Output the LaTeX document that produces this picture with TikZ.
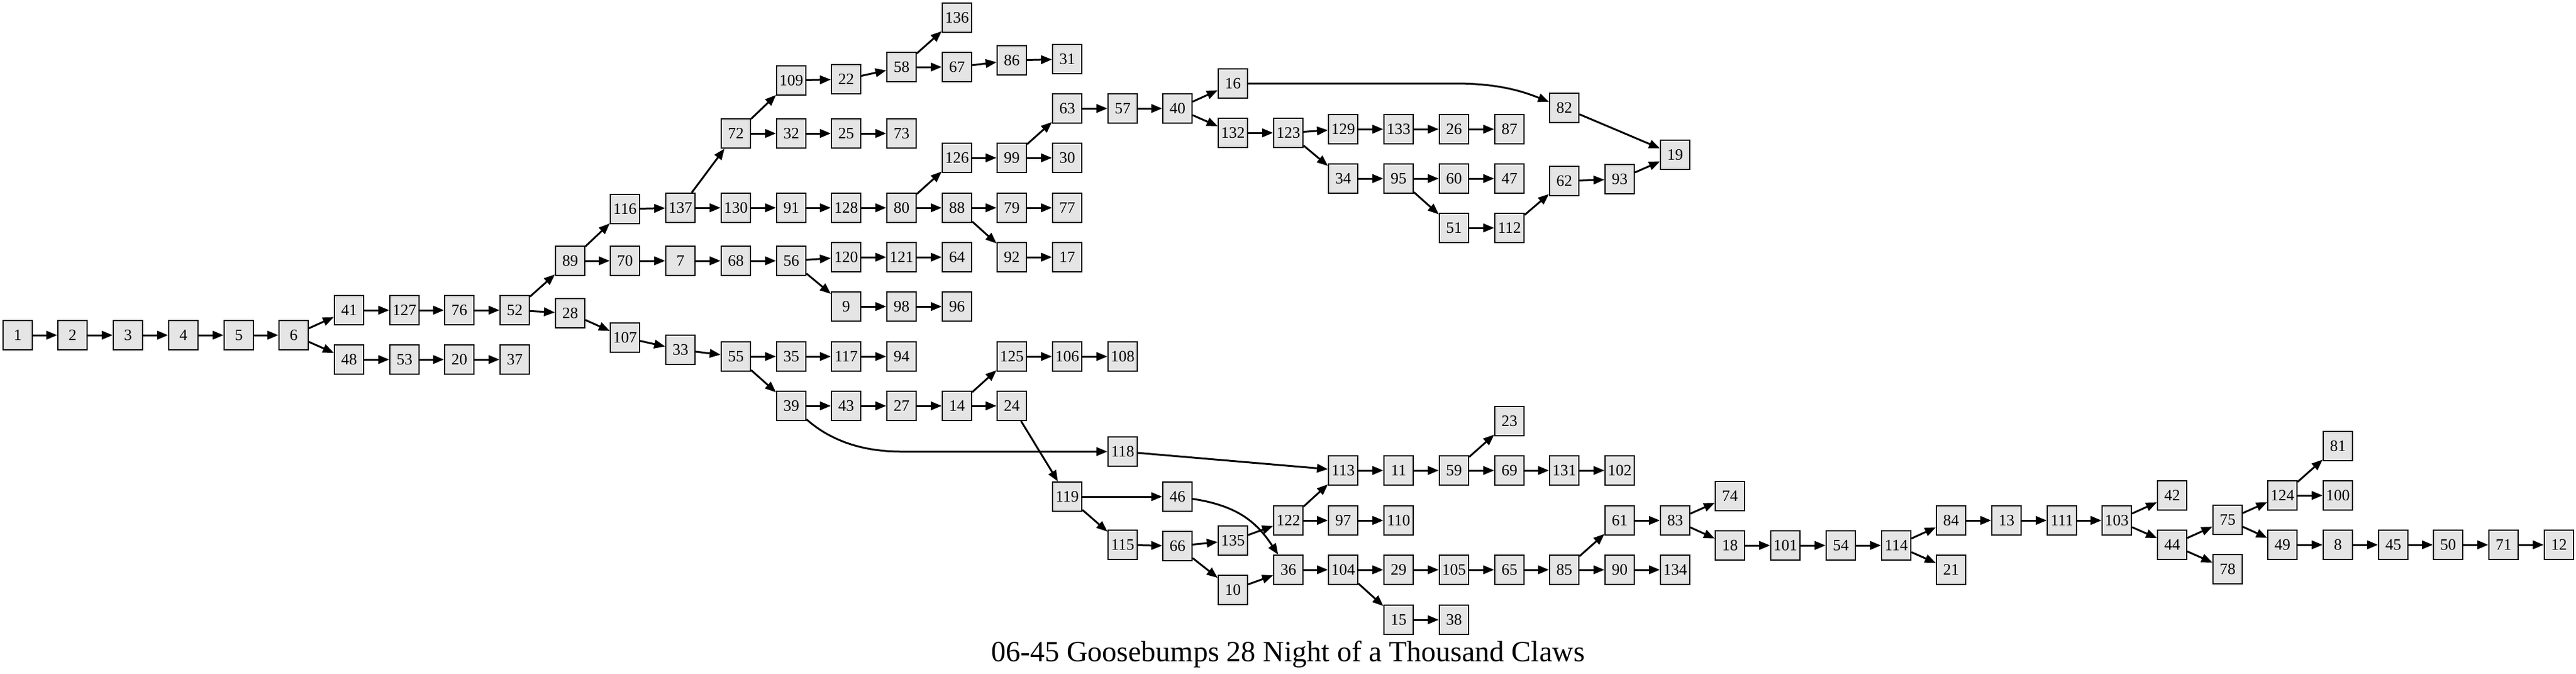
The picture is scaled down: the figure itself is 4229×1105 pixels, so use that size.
\documentclass[tikz,border=0pt]{standalone}
\usepackage{fontspec}
\setmainfont{Liberation Serif}
\usetikzlibrary{arrows.meta}
\begin{document}
\begin{tikzpicture}[x=0.5pt, y=-0.5pt, >={Triangle[length=9pt,width=7pt]},
    pagenode/.style={draw, line width=1.2pt, fill=black!10, minimum width=23.8pt, minimum height=23.8pt, inner sep=0pt, font=\fontsize{13}{13}\selectfont},
    jump/.style={->, line width=1.5pt}]
  \useasboundingbox (0,0) rectangle (4229,1105);
  % pages, one rank after another
  \foreach \n/\x/\y in {1/29/550, 2/119/550, 3/210/550, 4/301/550, 5/392/550, 6/482/550,
      41/573/509, 48/573/590, 127/664/509, 53/664/590, 76/754/509, 20/754/590, 52/845/509, 37/845/590,
      89/936/428, 28/936/514, 116/1026/343, 70/1026/428, 107/1026/554,
      137/1117/341, 7/1117/428, 33/1117/574, 72/1208/219, 130/1208/341, 68/1208/428, 55/1208/585,
      109/1299/132, 32/1299/219, 91/1299/341, 56/1299/428, 35/1299/585, 39/1299/666,
      22/1389/130, 25/1389/219, 128/1389/341, 120/1389/422, 9/1389/503, 117/1389/585, 43/1389/666,
      58/1480/110, 73/1480/219, 80/1480/341, 121/1480/422, 98/1480/503, 94/1480/585, 27/1480/666,
      136/1571/29, 67/1571/110, 126/1571/259, 88/1571/341, 64/1571/422, 96/1571/503, 14/1571/666,
      86/1661/99, 99/1661/259, 79/1661/341, 92/1661/422, 125/1661/585, 24/1661/666,
      31/1752/97, 63/1752/178, 30/1752/259, 77/1752/341, 17/1752/422, 106/1752/585, 119/1752/815,
      57/1843/178, 108/1843/585, 118/1843/741, 115/1843/894,
      40/1933/178, 46/1933/815, 66/1933/896,
      16/2024/137, 132/2024/218, 135/2024/887, 10/2024/968,
      123/2115/218, 122/2115/854, 36/2115/935,
      129/2205/212, 34/2205/293, 113/2205/772, 97/2205/854, 104/2205/935,
      133/2296/212, 95/2296/293, 11/2296/772, 110/2296/854, 29/2296/935, 15/2296/1017,
      26/2387/212, 60/2387/293, 51/2387/374, 59/2387/772, 105/2387/935, 38/2387/1017,
      87/2478/212, 47/2478/293, 112/2478/374, 23/2478/691, 69/2478/772, 65/2478/935,
      82/2568/177, 62/2568/297, 131/2568/772, 85/2568/935,
      93/2659/294, 102/2659/772, 61/2659/854, 90/2659/935,
      19/2750/254, 83/2750/854, 134/2750/935, 74/2840/814, 18/2840/895,
      101/2931/895, 54/3022/895, 114/3113/895, 84/3203/854, 21/3203/935,
      13/3294/854, 111/3385/854, 103/3475/854, 42/3566/813, 44/3566/894,
      75/3657/853, 78/3657/934, 124/3747/813, 49/3747/894,
      81/3838/732, 100/3838/813, 8/3838/894, 45/3929/894, 50/4019/894, 71/4110/894, 12/4201/894}
    \node[pagenode] (n\n) at (\x,\y) {\n};
  % straight jumps
  \foreach \a/\b in {1/2, 2/3, 3/4, 4/5, 5/6, 6/41, 6/48, 41/127, 127/76, 76/52, 48/53, 53/20, 20/37,
      52/89, 52/28, 89/116, 89/70, 116/137, 137/72, 137/130, 72/109, 72/32, 109/22, 22/58, 58/136,
      58/67, 67/86, 86/31, 32/25, 25/73, 130/91, 91/128, 128/80, 80/126, 80/88, 126/99, 99/63, 99/30,
      63/57, 57/40, 40/16, 40/132, 82/19, 132/123, 123/129, 129/133, 133/26, 26/87, 123/34, 34/95,
      95/60, 60/47, 95/51, 51/112, 112/62, 62/93, 93/19, 88/79, 79/77, 88/92, 92/17,
      70/7, 7/68, 68/56, 56/120, 120/121, 121/64, 56/9, 9/98, 98/96,
      28/107, 107/33, 33/55, 55/35, 35/117, 117/94, 55/39, 39/43, 43/27, 27/14, 14/125, 125/106,
      106/108, 14/24, 118/113, 24/119, 119/46, 119/115, 115/66, 66/135, 66/10, 135/122, 10/36,
      122/113, 122/97, 97/110, 113/11, 11/59, 59/23, 59/69, 69/131, 131/102,
      36/104, 104/29, 104/15, 15/38, 29/105, 105/65, 65/85, 85/61, 85/90, 90/134, 61/83, 83/74,
      83/18, 18/101, 101/54, 54/114, 114/84, 114/21, 84/13, 13/111, 111/103, 103/42, 103/44,
      44/75, 44/78, 75/124, 75/49, 124/81, 124/100, 49/8, 8/45, 45/50, 50/71, 71/12}
    \draw[jump] (n\a) -- (n\b);
  % bent jumps
  \coordinate (c16) at (2390,137);
  \coordinate (c39) at (1480,741);
  \draw[jump] (n16) -- (c16) .. controls (2460,137) and (2500,150) .. (n82);
  \draw[jump] (n39) .. controls (1360,720) and (1410,741) .. (c39) -- (n118);
  \draw[jump] (n46) .. controls (2035,830) and (2065,860) .. (n36);
  \node[font=\fontsize{24}{24}\selectfont, anchor=base] (title) at (2114.5,1085) {06-45 Goosebumps 28 Night of a Thousand Claws};
\end{tikzpicture}
\end{document}
